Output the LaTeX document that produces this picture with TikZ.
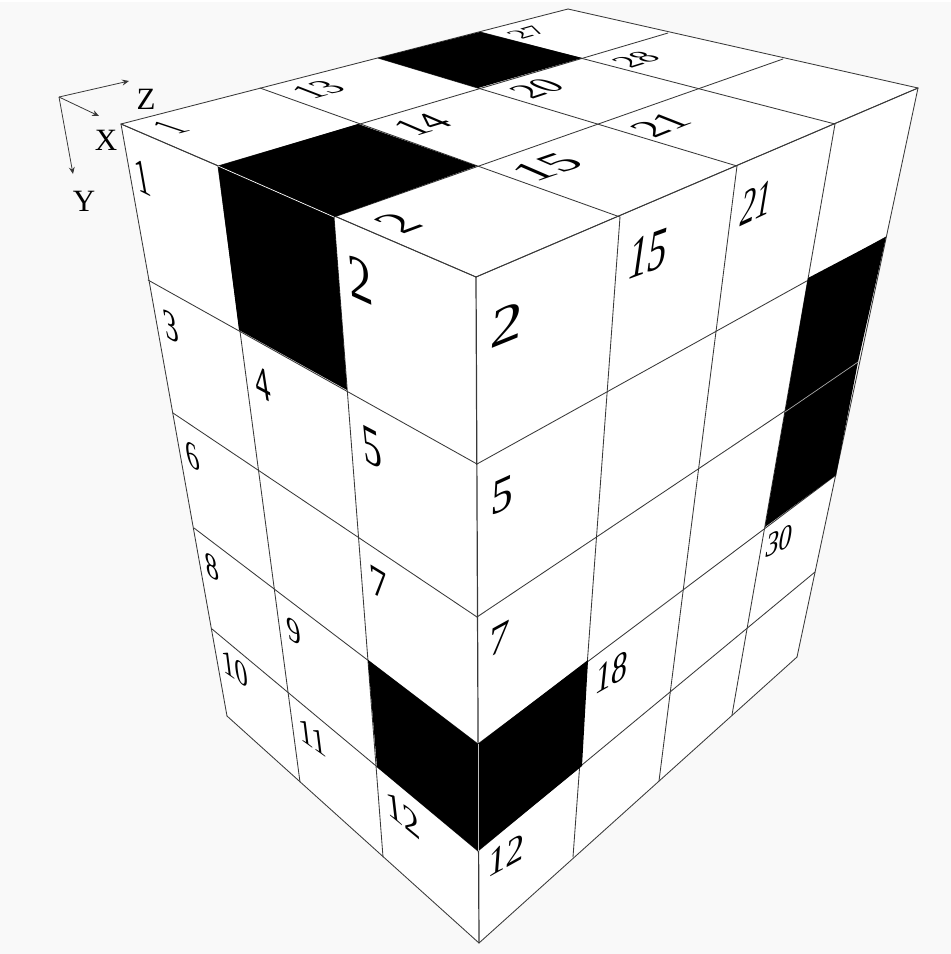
\documentclass[tikz,border=0pt]{standalone}
\usepackage{fontspec}
\setmainfont{Liberation Serif}
\usetikzlibrary{arrows.meta}
\definecolor{bgc}{HTML}{F9F9F9}
\definecolor{gridc}{HTML}{383838}
\newcounter{lbl}
\newcommand{\lab}[7]{%
  \stepcounter{lbl}%
  \pgfmathsetmacro{\ca}{#3/5}\pgfmathsetmacro{\cb}{-(#4)/5}%
  \pgfmathsetmacro{\cc}{#5/6.76}\pgfmathsetmacro{\cd}{-(#6)/6.76}%
  \begin{scope}[cm={\ca,\cb,\cc,\cd,(#1,#2)}]
    \node[facelabel] (lab\thelbl) at (0,0) {#7};
  \end{scope}}
\tikzset{
  facelabel/.style={transform shape,inner sep=0pt,outer sep=0pt,font=\fontsize{10}{10}\selectfont},
  axislabel/.style={inner sep=0pt,font=\fontsize{31}{31}\selectfont},
  gridline/.style={draw=gridc,line width=0.85pt,line cap=round},
  heavyline/.style={draw=gridc,line width=1.2pt},
  axisline/.style={draw=gridc,line width=0.8pt,-{Stealth[length=7pt,width=6pt,inset=2.5pt]}},
  facefill/.style={fill=white,draw=none},
  blackcell/.style={fill=black,draw=none},
  gap/.style={draw=white,line width=0.7pt}
}
\begin{document}
\begin{tikzpicture}[x=1pt,y=-1pt]
\useasboundingbox (0,0) rectangle (951,954);
\fill[white] (0,0) rectangle (951,954);
\fill[bgc] (0,2) rectangle (951,954);
% top-face points T i j
\foreach \i/\row in {0/{121/124,260/88,378/58,480/32,568/9},
 1/{218/166,358/124,478/88,582/58,668/33},
 2/{334/217,477/166,597/124,698/88,783/59},
 3/{476/277,620/217,737/166,835/124,918/88}}{
  \foreach \a/\b [count=\j from 0] in \row { \pgfcoordinate{T\i\j}{\pgfpointxy{\a}{\b}} }
}
% left-face points L k i
\foreach \k/\row in {0/{121/124,218/166,334/217,476/277},
 1/{148/280,239/330,347/390,477/464},
 2/{173/413,258/470,359/537,477/617},
 3/{194/528,274/589,368/660,478/744},
 4/{212/629,288/692,377/767,478/851},
 5/{227/716,300/782,383/857,479/943}}{
  \foreach \a/\b [count=\j from 0] in \row { \pgfcoordinate{L\k\j}{\pgfpointxy{\a}{\b}} }
}
% right-face points R k j
\foreach \k/\row in {0/{476/277,620/217,737/166,835/124,918/88},
 1/{477/464,608/390,716/331,808/278,886/237},
 2/{477/617,597/537,699/470,785/412,858/362},
 3/{478/744,588/660,683/589,765/527,836/475},
 4/{478/851,582/766,670/692,747/627,815/572},
 5/{479/943,573/857,659/781,732/715,797/657}}{
  \foreach \a/\b [count=\j from 0] in \row { \pgfcoordinate{R\k\j}{\pgfpointxy{\a}{\b}} }
}
% faces
\path[facefill] (T00)--(T04)--(T34)--(T30)--cycle;
\path[facefill] (L00)--(L03)--(L53)--(L50)--cycle;
\path[facefill] (R00)--(R04)--(R54)--(R50)--cycle;
% grid lines
\foreach \i in {0,1,2,3}{\draw[gridline] (T\i0)--(T\i4);}
\foreach \j in {0,1,2,3,4}{\draw[gridline] (T0\j)--(T3\j);}
\foreach \k in {0,1,2,3,4,5}{\draw[gridline] (L\k0)--(L\k3);}
\foreach \j in {0,1,2}{\draw[gridline] (L0\j)--(L5\j);}
\foreach \k in {0,1,2,3,4,5}{\draw[gridline] (R\k0)--(R\k4);}
\foreach \j in {1,2,3,4}{\draw[gridline] (R0\j)--(R5\j);}
\draw[heavyline] (L03)--(L53);
% black cells
\fill[blackcell] (T10)--(T11)--(T21)--(T20)--cycle;
\fill[blackcell] (T02)--(T03)--(T13)--(T12)--cycle;
\fill[blackcell] (L01)--(L02)--(L12)--(L11)--cycle;
\fill[blackcell] (L32)--(L33)--(L43)--(L42)--cycle;
\fill[blackcell] (R30)--(R31)--(R41)--(R40)--cycle;
\fill[blackcell] (R13)--(R14)--(R24)--(R23)--cycle;
\fill[blackcell] (R23)--(R24)--(R34)--(R33)--cycle;
% light seams between adjoining black cells
\draw[gap] (L01)--(L02);
\draw[gap,draw=gray!50] (L33)--(L43);
\draw[gap,draw=gray!70] (R23)--(R24);
% top labels
\lab{170}{128}{15}{-4}{-30}{-10}{1}
\lab{318}{90}{18}{-5}{-26}{-10}{13}
\lab{422}{125}{20}{-6}{-28}{-12}{14}
\lab{398}{223}{24}{-9}{-33}{-14}{2}
\lab{547}{167}{26}{-9}{-30}{-13}{15}
\lab{527}{33}{14}{-4}{-18}{-6}{27}
\lab{636}{60}{16}{-5}{-22}{-8}{28}
\lab{537}{89}{18}{-6}{-26}{-10}{20}
\lab{661}{125}{20}{-8}{-28}{-11}{21}
% left labels
\lab{143}{177}{14}{7}{-6}{-34}{1}
\lab{361}{280}{24}{11}{-4}{-43}{2}
\lab{171}{327}{14}{7}{-5}{-30}{3}
\lab{263}{383}{15}{8}{-5}{-33}{4}
\lab{372}{447}{19}{10}{-4}{-38}{5}
\lab{193}{456}{13}{7}{-5}{-27}{6}
\lab{212}{567}{13}{7}{-4}{-25}{8}
\lab{379}{583}{18}{11}{-3}{-30}{7}
\lab{294}{631}{14}{9}{-3}{-24}{9}
\lab{235}{669}{13}{9}{-3}{-24}{10}
\lab{313}{737}{14}{10}{-3}{-24}{11}
\lab{403}{815}{17}{14}{-3}{-26}{12}
% right labels
\lab{507}{324}{32}{-13}{3}{-38}{2}
\lab{648}{254}{19}{-7}{6}{-41}{15}
\lab{756}{203}{15}{-7}{6}{-36}{21}
\lab{502}{495}{22}{-10}{2}{-34}{5}
\lab{499}{639}{20}{-11}{2}{-29}{7}
\lab{612}{672}{16}{-9}{3}{-29}{18}
\lab{779}{541}{13}{-6}{4}{-24}{30}
\lab{506}{855}{18}{-10}{2}{-27}{12}
% axes
\coordinate (O) at (59,97);
\coordinate (ZE) at (129,81);
\coordinate (XE) at (99,116);
\coordinate (YE) at (73,174);
\draw[axisline] (O)--(ZE);
\draw[axisline] (O)--(XE);
\draw[axisline] (O)--(YE);
\node[axislabel] (zlab) at (146,99) {Z};
\node[axislabel] (xlab) at (106,140) {X};
\node[axislabel] (ylab) at (84,201) {Y};
\end{tikzpicture}
\end{document}
